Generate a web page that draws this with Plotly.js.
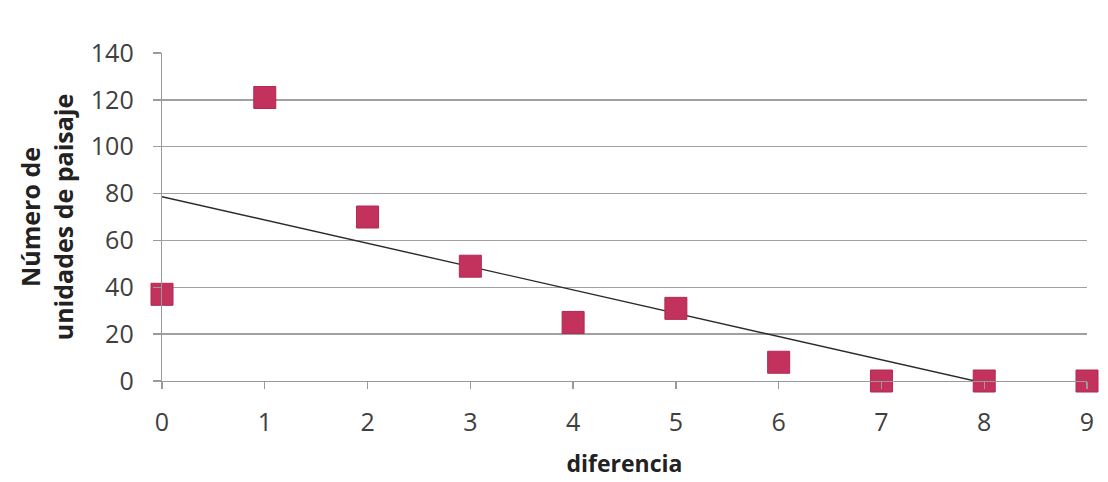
<!DOCTYPE html>
<html>
<head>
<meta charset="utf-8">
<script src="https://cdn.plot.ly/plotly-3.0.1.min.js"></script>
<style>html,body{margin:0;padding:0;background:#fff;}#chart{width:1108px;height:482px;}</style>
</head>
<body>
<div id="chart"></div>
<script>
const diferencia = [0, 1, 2, 3, 4, 5, 6, 7, 8, 9];
const unidades = [37, 121, 70, 49, 25, 31, 8, 0, 0, 0];
const trendX = [0, 7.91];
const trendY = [78.65, 0];
const xTicks = [0, 1, 2, 3, 4, 5, 6, 7, 8, 9];
const yTicks = [0, 20, 40, 60, 80, 100, 120, 140];

const fontFam = '"Open Sans", "Liberation Sans", sans-serif';

const traces = [
  {
    x: trendX, y: trendY, type: 'scatter', mode: 'lines',
    line: {color: '#2a2a2a', width: 1.4},
    hoverinfo: 'skip', showlegend: false
  },
  {
    x: diferencia, y: unidades, type: 'scatter', mode: 'markers',
    cliponaxis: false,
    marker: {symbol: 'square', size: 22, color: '#c2325c',
             line: {color: '#b02a52', width: 1}},
    showlegend: false
  }
];

const layout = {
  width: 1108, height: 482,
  margin: {l: 162, r: 21, t: 53, b: 100.5},
  paper_bgcolor: '#ffffff', plot_bgcolor: '#ffffff',
  font: {family: fontFam, color: '#404040', size: 22},
  showlegend: false,
  xaxis: {
    range: [0, 9], tickvals: xTicks, ticktext: xTicks.map(String),
    showgrid: false, zeroline: false,
    showline: true, linecolor: '#9a9a9a', linewidth: 1.3,
    ticks: 'outside', ticklen: 7, tickcolor: '#9a9a9a', tickwidth: 1.3,
    ticklabelstandoff: 12,
    tickfont: {size: 25, color: '#404040', family: fontFam},
    title: {text: '<b>diferencia</b>', standoff: 18,
            font: {size: 23, color: '#222', family: fontFam}}
  },
  yaxis: {
    range: [0, 140], tickvals: yTicks, ticktext: yTicks.map(String),
    showgrid: true, gridcolor: '#a0a0a0', gridwidth: 1.3,
    zeroline: false,
    showline: true, linecolor: '#9a9a9a', linewidth: 1.3,
    ticks: 'outside', ticklen: 8, tickcolor: '#9a9a9a', tickwidth: 1.3,
    ticklabelstandoff: 14,
    tickfont: {size: 25, color: '#404040', family: fontFam},
    title: {text: '<b>Número de<br>unidades de paisaje</b>', standoff: 10,
            font: {size: 25, color: '#222', family: fontFam}}
  }
};

Plotly.newPlot('chart', traces, layout, {displayModeBar: false, staticPlot: true});
</script>
</body>
</html>
